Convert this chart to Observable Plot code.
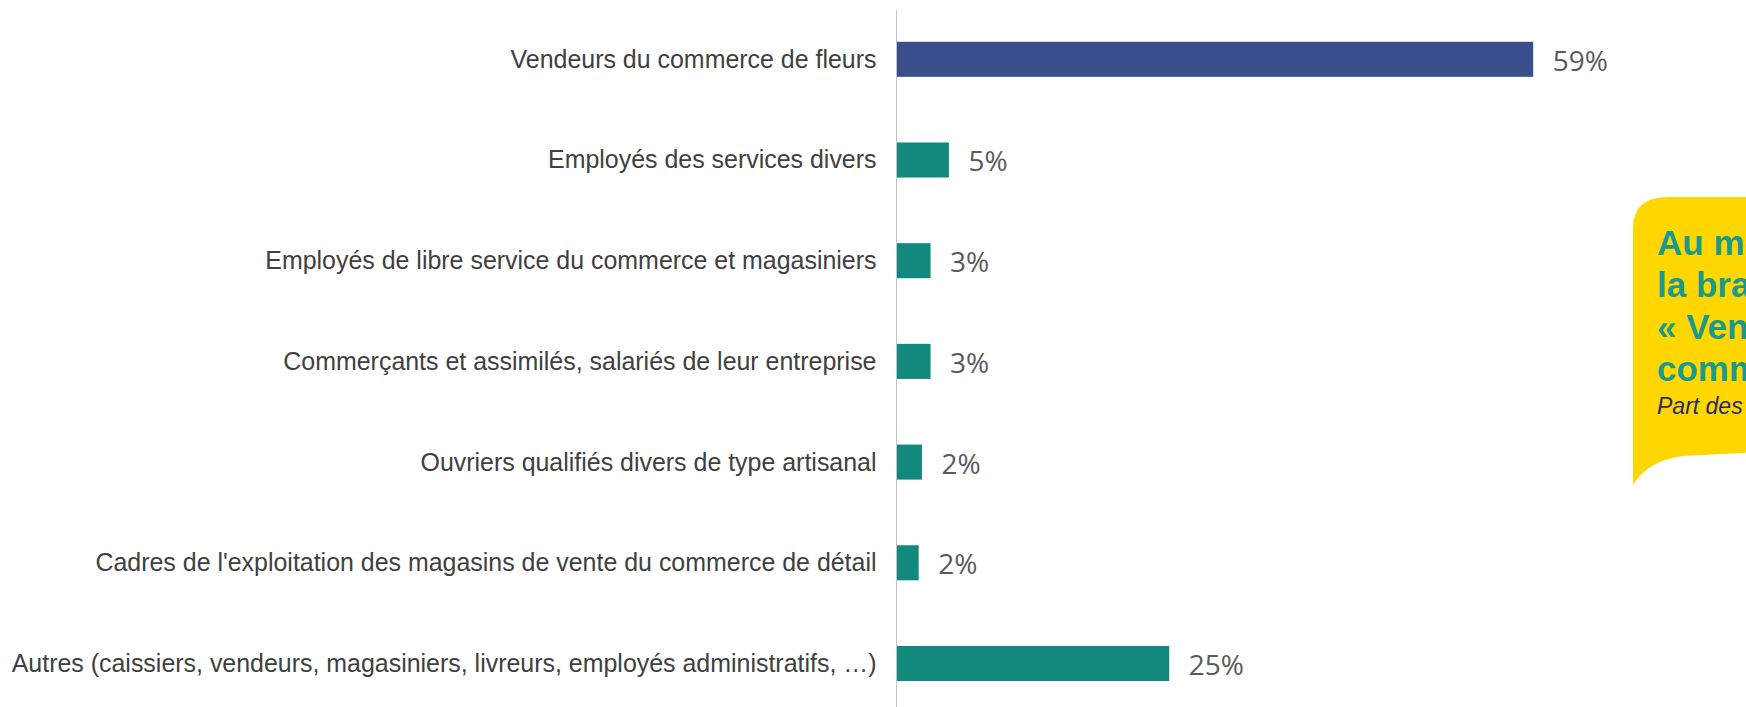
<!DOCTYPE html>
<html>
<head>
<meta charset="utf-8">
<script src="https://cdn.jsdelivr.net/npm/d3@7"></script>
<script src="https://cdn.jsdelivr.net/npm/@observablehq/plot@0.6"></script>
<style>
  html, body { margin: 0; padding: 0; background: #ffffff; }
  #wrap { position: relative; width: 1746px; height: 707px; overflow: hidden; background: #ffffff; }
  #chart { position: absolute; left: 0; top: 0; }
  #callout { position: absolute; left: 0; top: 0; }
</style>
</head>
<body>
<div id="wrap">
  <div id="chart"></div>
  <svg id="callout" width="1746" height="707"></svg>
</div>
<script>
// ---- data ----
const categories = [
  "Vendeurs du commerce de fleurs",
  "Employés des services divers",
  "Employés de libre service du commerce et magasiniers",
  "Commerçants et assimilés, salariés de leur entreprise",
  "Ouvriers qualifiés divers de type artisanal",
  "Cadres de l'exploitation des magasins de vente du commerce de détail",
  "Autres (caissiers, vendeurs, magasiniers, livreurs, employés administratifs, …)"
];
const values = [59.0, 4.9, 3.2, 3.2, 2.4, 2.1, 25.3];
const valueLabels = ["59%", "5%", "3%", "3%", "2%", "2%", "25%"];
const barColors = ["#3b4e8c", "#118a7d", "#118a7d", "#118a7d", "#118a7d", "#118a7d", "#118a7d"];

const calloutLines = ["Au métier", "la branche", "« Vendeurs du", "commerce »"];
const calloutSubtitle = "Part des salariés";

const data = categories.map((c, i) => ({cat: c, value: values[i], label: valueLabels[i], color: barColors[i]}));

const chart = Plot.plot({
  width: 1746,
  height: 707,
  marginLeft: 896,
  marginRight: 94,
  marginTop: 10,
  marginBottom: 0,
  style: {background: "transparent", fontFamily: "'Liberation Sans', Arial, sans-serif"},
  x: {domain: [0, 70], axis: null},
  y: {domain: categories, paddingInner: 0.652, paddingOuter: 0.287, align: 0.55, round: false, label: null},
  marks: [
    Plot.barX(data, {x: "value", y: "cat", fill: "color"}),
    Plot.ruleX([0], {stroke: "#c4c4c4", strokeWidth: 1}),
    Plot.axisY({tickSize: 0, tickPadding: 20, fontSize: 24.95, fill: "#404040", label: null,
                fontFamily: "'Liberation Sans', Arial, sans-serif"}),
    Plot.text(data, {x: "value", y: "cat", text: "label", textAnchor: "start", dx: 19, dy: 2,
                     fontSize: 28, fontFamily: "'Open Sans', sans-serif", fill: "#5a5a5a"})
  ]
});
document.getElementById("chart").appendChild(chart);

// ---- callout (yellow bubble, clipped at right edge) ----
const svg = d3.select("#callout");
svg.append("path")
  .attr("d", "M1633,228 Q1633,197 1668,197 L1760,197 L1760,452 L1684,456 Q1648,460 1633,485 Z")
  .attr("fill", "#ffd700");
const tx = 1657;
const baselines = [255, 297, 339, 381];
calloutLines.forEach((t, i) => {
  svg.append("text")
    .attr("x", tx).attr("y", baselines[i])
    .attr("font-family", "'Liberation Sans', Arial, sans-serif")
    .attr("font-weight", "bold").attr("font-size", 35)
    .attr("fill", "#1a9a8c")
    .text(t);
});
svg.append("text")
  .attr("x", tx).attr("y", 414)
  .attr("font-family", "'Liberation Sans', Arial, sans-serif")
  .attr("font-style", "italic").attr("font-size", 23)
  .attr("fill", "#2b2a6b")
  .text(calloutSubtitle);
</script>
</body>
</html>
